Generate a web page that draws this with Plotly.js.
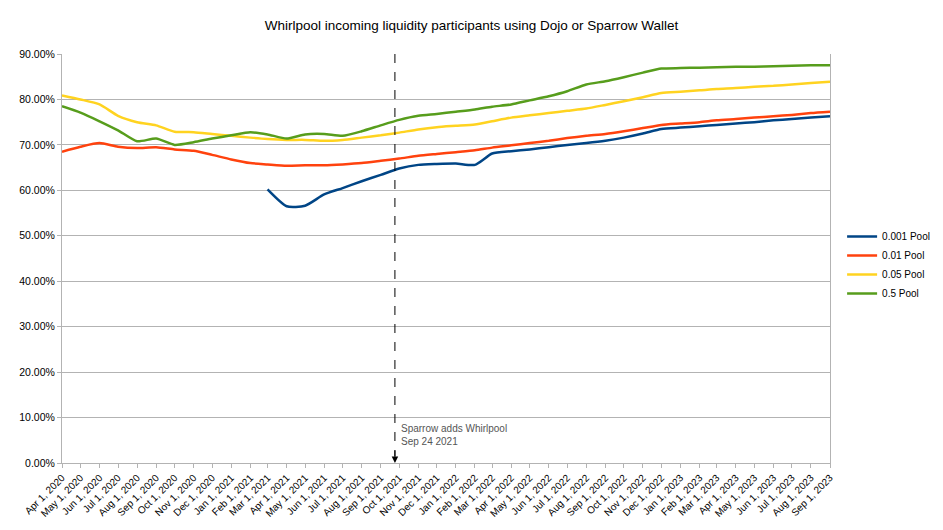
<!DOCTYPE html>
<html>
<head>
<meta charset="utf-8">
<script src="https://cdn.plot.ly/plotly-3.0.1.min.js"></script>
<style>html,body{margin:0;padding:0;background:#fff;}#chart{width:943px;height:530px;}</style>
</head>
<body>
<div id="chart"></div>
<script>
const months = [
  "2020-04-01","2020-05-01","2020-06-01","2020-07-01","2020-08-01","2020-09-01","2020-10-01","2020-11-01","2020-12-01",
  "2021-01-01","2021-02-01","2021-03-01","2021-04-01","2021-05-01","2021-06-01","2021-07-01","2021-08-01","2021-09-01","2021-10-01","2021-11-01","2021-12-01",
  "2022-01-01","2022-02-01","2022-03-01","2022-04-01","2022-05-01","2022-06-01","2022-07-01","2022-08-01","2022-09-01","2022-10-01","2022-11-01","2022-12-01",
  "2023-01-01","2023-02-01","2023-03-01","2023-04-01","2023-05-01","2023-06-01","2023-07-01","2023-08-01","2023-09-01"
];
const seriesNames = ["0.001 Pool","0.01 Pool","0.05 Pool","0.5 Pool"];
const pool0001 = [null,null,null,null,null,null,null,null,null,null,null,
  60.2,56.5,56.6,59.1,60.5,62.0,63.4,64.8,65.6,65.8,65.9,65.6,68.1,68.6,69.0,69.5,70.0,70.4,70.9,71.6,72.5,73.5,73.8,74.1,74.4,74.7,75.0,75.4,75.7,76.0,76.3];
const pool001 = [68.5,69.6,70.4,69.6,69.3,69.5,69.0,68.7,67.8,66.8,66.0,65.7,65.4,65.5,65.5,65.7,66.0,66.5,67.0,67.6,68.0,68.4,68.8,69.4,69.9,70.4,70.9,71.5,72.0,72.4,73.0,73.7,74.4,74.7,75.0,75.4,75.7,76.0,76.3,76.6,77.0,77.3];
const pool005 = [80.9,80.0,78.9,76.4,75.0,74.3,72.9,72.8,72.4,72.0,71.6,71.3,71.1,71.1,70.9,71.1,71.6,72.1,72.7,73.4,73.9,74.2,74.5,75.2,76.0,76.5,77.0,77.5,78.0,78.8,79.6,80.5,81.4,81.7,82.0,82.3,82.5,82.8,83.0,83.3,83.6,83.9];
const pool05 = [78.5,77.1,75.2,73.2,70.8,71.4,70.0,70.6,71.4,72.1,72.8,72.3,71.4,72.3,72.4,72.0,73.0,74.3,75.5,76.4,76.8,77.3,77.8,78.4,78.9,79.8,80.7,81.8,83.3,84.0,84.9,85.9,86.8,86.9,87.0,87.1,87.2,87.2,87.3,87.4,87.5,87.5];
const yTicks = [0,10,20,30,40,50,60,70,80,90];
const yTickLabels = ["0.00%","10.00%","20.00%","30.00%","40.00%","50.00%","60.00%","70.00%","80.00%","90.00%"];
const eventDate = "2021-09-24";
const eventText = "Sparrow adds Whirlpool<br>Sep 24 2021";
const titleText = "Whirlpool incoming liquidity participants using Dojo or Sparrow Wallet";

const colors = ["#004586","#ff420e","#ffd320","#579d1c"];
const allSeries = [pool0001, pool001, pool005, pool05];
const traces = allSeries.map((vals, i) => ({
  type: "scatter", mode: "lines", name: seriesNames[i],
  x: months, y: vals,
  line: {color: colors[i], width: 2.5, shape: "spline", smoothing: 0.6},
  connectgaps: false
}));

const FONT = "Liberation Sans, Arial, sans-serif";
const layout = {
  width: 943, height: 530,
  paper_bgcolor: "#ffffff", plot_bgcolor: "#ffffff",
  margin: {l: 62, r: 113, t: 54, b: 67, autoexpand: false},
  font: {family: FONT, size: 10, color: "#000"},
  title: {text: titleText, x: 0.5, xanchor: "center", y: 0.953, yanchor: "middle",
          font: {family: FONT, size: 13.5, color: "#000"}},
  showlegend: true,
  legend: {xref: "container", yref: "container", x: 0.893, xanchor: "left", y: 0.5, yanchor: "middle",
           font: {family: FONT, size: 10, color: "#000"}, tracegroupgap: 0,
           itemwidth: 30, bgcolor: "rgba(0,0,0,0)"},
  xaxis: {
    type: "date", range: [months[0], months[months.length-1]],
    tickmode: "array", tickvals: months, tickformat: "%b %-d, %Y",
    tickangle: -45, ticks: "outside", ticklen: 4, tickcolor: "#b3b3b3",
    showgrid: false, showline: true, linecolor: "#b3b3b3", linewidth: 1,
    mirror: false, zeroline: false, automargin: false,
    tickfont: {family: FONT, size: 10, color: "#000"}
  },
  yaxis: {
    range: [0, 90], tickmode: "array", tickvals: yTicks, ticktext: yTickLabels,
    ticks: "outside", ticklen: 4, tickcolor: "#b3b3b3",
    showgrid: true, gridcolor: "#b3b3b3", gridwidth: 1,
    showline: true, linecolor: "#b3b3b3", linewidth: 1, mirror: true,
    zeroline: false, automargin: false,
    tickfont: {family: FONT, size: 10.5, color: "#000"}
  },
  shapes: [{
    type: "line", xref: "x", yref: "y", x0: eventDate, x1: eventDate, y0: 90, y1: 1.5,
    line: {color: "#000", width: 1, dash: "dash"}
  }],
  annotations: [
    {xref: "x", yref: "y", x: eventDate, y: 0, ax: 0, ay: -14, text: "",
     showarrow: true, arrowhead: 2, arrowsize: 1.3, arrowwidth: 1, arrowcolor: "#000"},
    {xref: "x", yref: "y", x: eventDate, y: 9.2, xshift: 4, text: eventText,
     showarrow: false, xanchor: "left", yanchor: "top", align: "left",
     font: {family: FONT, size: 10, color: "#555"}}
  ]
};
Plotly.newPlot("chart", traces, layout, {displayModeBar: false, staticPlot: true});
</script>
</body>
</html>
